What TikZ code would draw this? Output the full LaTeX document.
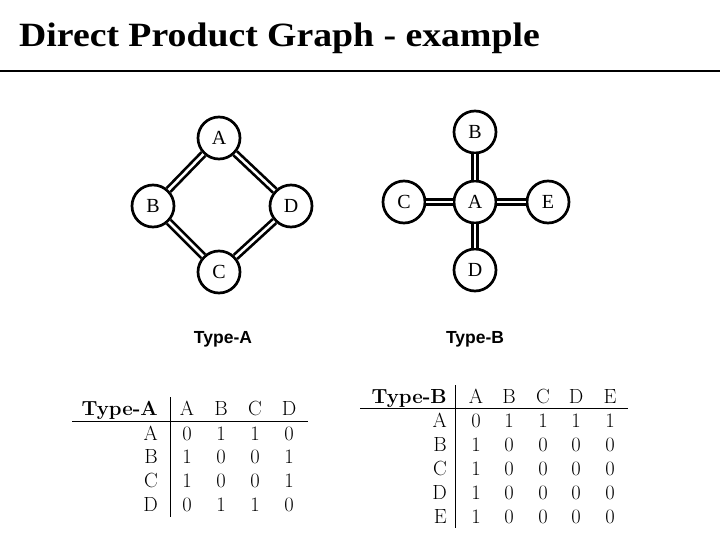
\documentclass[tikz,border=0pt]{standalone}
\usepackage{fontspec}
\newfontfamily\titlefont{Liberation Serif}
\newfontfamily\labelfont{Liberation Sans}
\newfontfamily\nodefont{Liberation Serif}
\begin{document}
\begin{tikzpicture}[x=1pt,y=-1pt,
  vert/.style={circle,draw,line width=2.7pt,minimum size=42pt,inner sep=0pt,font=\nodefont\fontsize{20}{20}\selectfont,fill=white},
  dedge/.style={line width=2.7pt,double=white,double distance=2.5pt},
  cell/.style={font=\fontsize{20.5}{20.5}\selectfont,inner sep=0pt,anchor=base},
  rowlab/.style={font=\fontsize{20.5}{20.5}\selectfont,inner sep=0pt,anchor=base east},
  thead/.style={font=\bfseries\fontsize{20.4}{20.4}\selectfont,inner sep=0pt,anchor=base east},
  glabel/.style={font=\labelfont\bfseries\fontsize{17.5}{17.5}\selectfont,inner sep=0pt}]
\useasboundingbox (0,0) rectangle (720,540);
% title
\node[anchor=base west,inner sep=0pt,font=\titlefont\bfseries\fontsize{34}{34}\selectfont] (title) at (19,47) {\scalebox{1.11}[1]{Direct Product Graph - example}};
\coordinate (rl) at (0,71);
\coordinate (rr) at (720,71);
\draw[line width=2.2pt] (rl) -- (rr);
% graph A
\node[vert] (a1) at (219,138) {A};
\node[vert] (b1) at (153,206) {B};
\node[vert] (d1) at (291,206) {D};
\node[vert] (c1) at (219,272) {C};
\draw[dedge] (a1) -- (b1);
\draw[dedge] (a1) -- (d1);
\draw[dedge] (b1) -- (c1);
\draw[dedge] (d1) -- (c1);
\node[glabel] (tA) at (223,339) {Type-A};
% graph B
\node[vert] (a2) at (475,202) {A};
\node[vert] (b2) at (475,132) {B};
\node[vert] (c2) at (404,202) {C};
\node[vert] (e2) at (548,202) {E};
\node[vert] (d2) at (475,270) {D};
\draw[dedge] (a2) -- (b2);
\draw[dedge] (a2) -- (c2);
\draw[dedge] (a2) -- (e2);
\draw[dedge] (a2) -- (d2);
\node[glabel] (tB) at (475,339) {Type-B};
% table A
\node[thead] (tah) at (158,415) {Type-A};
\foreach \c/\x in {A/187,B/221,C/255,D/289} {\node[cell] (tac\c) at (\x,415) {\c};}
\coordinate (tav1) at (170,397); \coordinate (tav2) at (170,517);
\coordinate (tah1) at (72,421); \coordinate (tah2) at (308,421);
\draw[line width=0.9pt] (tav1) -- (tav2);
\draw[line width=0.9pt] (tah1) -- (tah2);
\foreach \r/\y/\va/\vb/\vc/\vd in {A/440/0/1/1/0,B/463/1/0/0/1,C/487/1/0/0/1,D/511/0/1/1/0} {
  \node[rowlab] (tar\r) at (158,\y) {\r};
  \node[cell] (ta\r A) at (187,\y) {\va};
  \node[cell] (ta\r B) at (221,\y) {\vb};
  \node[cell] (ta\r C) at (255,\y) {\vc};
  \node[cell] (ta\r D) at (289,\y) {\vd};
}
% table B
\node[thead] (tbh) at (447,403) {Type-B};
\foreach \c/\x in {A/476,B/509,C/543,D/576,E/610} {\node[cell] (tbc\c) at (\x,403) {\c};}
\coordinate (tbv1) at (455,385); \coordinate (tbv2) at (455,528);
\coordinate (tbh1) at (360,408); \coordinate (tbh2) at (628,408);
\draw[line width=0.9pt] (tbv1) -- (tbv2);
\draw[line width=0.9pt] (tbh1) -- (tbh2);
\foreach \r/\y/\va/\vb/\vc/\vd/\ve in {A/427/0/1/1/1/1,B/451/1/0/0/0/0,C/475/1/0/0/0/0,D/499/1/0/0/0/0,E/523/1/0/0/0/0} {
  \node[rowlab] (tbr\r) at (447,\y) {\r};
  \node[cell] (tb\r A) at (476,\y) {\va};
  \node[cell] (tb\r B) at (509,\y) {\vb};
  \node[cell] (tb\r C) at (543,\y) {\vc};
  \node[cell] (tb\r D) at (576,\y) {\vd};
  \node[cell] (tb\r E) at (610,\y) {\ve};
}
\end{tikzpicture}
\end{document}
